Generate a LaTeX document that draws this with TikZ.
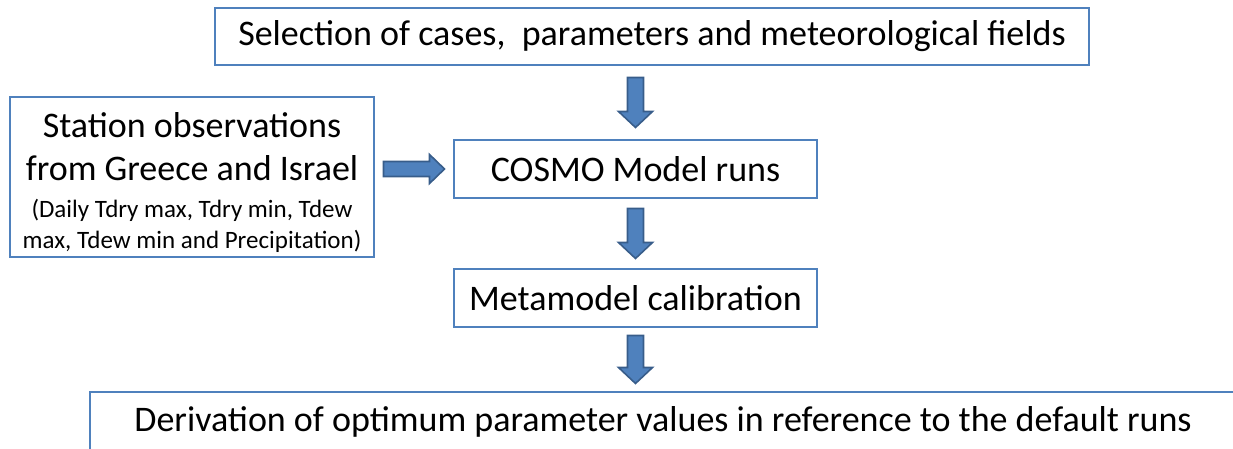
\documentclass[tikz,border=0pt]{standalone}
\usepackage{fontspec}
\setmainfont{Carlito}
\usetikzlibrary{calc}
\definecolor{boxblue}{HTML}{4F81BD}
\definecolor{arrowedge}{HTML}{385D8A}
\tikzset{
  box/.style={draw=boxblue, line width=1.5pt, fill=white, inner sep=0pt, align=center,
    font=\fontsize{36}{36}\selectfont},
  plaintext/.style={inner sep=0pt, align=center, font=\fontsize{36}{36}\selectfont},
  blockarrow/.style={draw=arrowedge, fill=boxblue, line width=1.6pt, line join=miter},
}
\newcommand\arrowdown[2]{% center coordinate name, half length
  \draw[blockarrow, shift={(#1)}] (-8,-#2) -- (8,-#2) -- (8,#2-16) -- (17,#2-16) -- (0,#2)
     -- (-17,#2-16) -- (-8,#2-16) -- cycle;}
\newcommand\arrowright[2]{%
  \draw[blockarrow, shift={(#1)}] (-#2,-7.5) -- (-#2,7.5) -- (#2-15,7.5) -- (#2-15,14.5) -- (#2,0)
     -- (#2-15,-14.5) -- (#2-15,-7.5) -- cycle;}
\begin{document}
\begin{tikzpicture}[x=1pt,y=-1pt]
\useasboundingbox (0,0) rectangle (1233,449);
\clip (0,0) rectangle (1233,449);
\node[box, minimum width=874pt, minimum height=57pt] (sel) at (652,36.5)
  {Selection of cases,\ \ parameters and meteorological fields};
\node[box, minimum width=364pt, minimum height=160pt] (obs) at (192,177) {};
\node[plaintext] (obstext) at ($(obs.center)+(0,6)$)
  {Station observations\\[7pt] from Greece and Israel\\[1pt]
   {\fontsize{25}{31}\selectfont (Daily Tdry max, Tdry min, Tdew}\\[-5pt]
   {\fontsize{25}{31}\selectfont max, Tdew min and Precipitation)}};
\node[box, minimum width=363pt, minimum height=58pt] (cosmo) at (635.5,169) {COSMO Model runs};
\node[box, minimum width=363pt, minimum height=58pt] (meta) at (635.5,298) {Metamodel calibration};
\node[box, minimum width=1146pt, minimum height=60pt] (deriv) at (663,422)
  {Derivation of optimum parameter values in reference to the default runs};
\coordinate (m1) at ($(sel.south -| cosmo.north)!0.5!(cosmo.north)$);
\coordinate (m2) at ($(cosmo.south)!0.5!(meta.north)$);
\coordinate (m3) at ($(meta.south)!0.5!(deriv.north -| meta.south)$);
\coordinate (m4) at ($(obs.east |- cosmo.west)!0.5!(cosmo.west)$);
\arrowdown{m1}{25}
\arrowdown{m2}{25}
\arrowdown{m3}{24}
\arrowright{m4}{30.5}
\end{tikzpicture}
\end{document}
